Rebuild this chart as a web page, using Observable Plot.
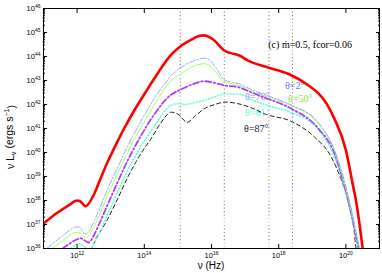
<!DOCTYPE html>
<html><head><meta charset="utf-8">
<script src="https://cdn.jsdelivr.net/npm/d3@7"></script>
<script src="https://cdn.jsdelivr.net/npm/@observablehq/plot@0.6"></script>
<style>body{margin:0;background:#fff} #chart{width:382px;height:273px}</style>
</head><body><div id="chart"></div>
<script>
// log10(nu) and log10(nu L_nu)
const totalNu = [11.0,11.4,11.75,12.0,12.08,12.25,12.5,12.65,12.9,13.2,13.4,13.7,14.1,14.4,14.6,14.8,15.05,15.4,15.6,15.78,15.95,16.1,16.25,16.38,16.55,16.83,17.09,17.69,18.28,18.88,19.18,19.36,19.66,20.0,20.2,20.3,20.5];
const totalL  = [37.04,37.48,37.8,38.0,37.98,37.76,38.25,38.75,39.58,40.45,41.0,41.75,42.65,43.3,43.72,44.08,44.4,44.7,44.84,44.88,44.8,44.65,44.42,44.25,44.15,44.04,43.83,43.54,43.28,42.8,42.46,42.17,41.4,40.1,38.7,38.0,36.0];

const th2Nu = [11.1,11.5,12.0,12.08,12.25,12.5,12.65,12.9,13.2,13.5,13.9,14.3,14.6,14.8,15.05,15.4,15.6,15.78,15.95,16.1,16.25,16.38,16.55,16.8,17.2,17.7,18.37,19.18,19.66,19.96,20.2,20.4];
const th2L  = [36.0,36.45,36.9,36.88,36.6,37.1,37.6,38.45,39.35,40.25,41.3,42.25,42.85,43.2,43.5,43.78,43.88,43.93,43.85,43.6,43.25,43.02,42.95,42.87,42.62,42.35,41.98,41.25,40.1,38.8,37.4,36.0];

const th50Nu = [11.25,11.5,12.0,12.08,12.25,12.5,12.65,12.9,13.2,13.5,13.9,14.3,14.6,14.8,15.05,15.4,15.6,15.78,15.95,16.1,16.25,16.38,16.55,16.8,17.2,17.7,18.37,19.18,19.66,19.96,20.2,20.4];
const th50L  = [36.0,36.25,36.68,36.66,36.45,36.9,37.35,38.2,39.1,40.0,41.04,42.0,42.65,43.0,43.25,43.55,43.66,43.7,43.62,43.4,43.1,42.93,42.88,42.8,42.55,42.3,41.96,41.2,40.08,38.7,37.3,36.0];

const th76Nu = [11.57,12.0,12.1,12.34,12.5,12.65,12.9,13.2,13.5,13.9,14.3,14.79,15.05,15.4,15.78,16.1,16.38,16.8,17.2,17.5,18.37,19.18,19.66,19.96,20.2,20.38];
const th76L  = [36.0,36.38,36.43,36.25,36.55,37.0,37.8,38.75,39.65,40.7,41.6,42.4,42.6,42.82,42.97,42.9,42.8,42.72,42.5,42.33,41.83,41.0,39.96,38.6,37.2,36.0];

const th81Nu = [11.75,12.05,12.15,12.35,12.5,12.65,12.9,13.2,13.5,13.9,14.3,14.79,15.05,15.2,15.5,15.78,16.1,16.38,16.8,17.2,17.7,18.37,19.18,19.66,19.96,20.2,20.36];
const th81L  = [35.9,36.2,36.15,35.95,36.2,36.6,37.4,38.35,39.25,40.25,41.1,41.96,42.04,42.0,42.08,42.17,42.32,42.44,42.44,42.2,41.95,41.67,40.95,39.8,38.5,37.1,36.0];

const th87Nu = [12.0,12.1,12.3,12.45,12.9,13.2,13.5,14.0,14.19,14.5,14.8,15.0,15.28,15.5,15.78,16.1,16.4,16.8,17.2,17.6,18.37,19.06,19.57,19.87,20.07,20.2,20.3];
const th87L  = [35.5,35.5,35.45,36.05,37.2,38.05,38.95,40.17,40.55,41.25,41.68,41.6,41.26,41.5,41.82,42.0,42.1,42.03,41.85,41.6,41.3,40.65,39.8,38.83,38.0,37.2,36.0];

// vertical dotted markers (log10 nu)
const markerNu = [15.07,16.38,17.71,18.41];

// tick exponents
const xTickExp = [12,14,16,18,20];
const yTickExp = [36,37,38,39,40,41,42,43,44,45,46];

// labels: text, log10 nu, log10 L
const labelText = ["(c) ṁ=0.5, fcor=0.06","θ=2°","θ=50°","θ=76°","θ=81°","θ=87°"];
const labelNu   = [17.69,18.19,18.28,17.0,17.0,16.97];
const labelL    = [44.5,42.79,42.25,42.33,41.67,41.0];

const series = [
  {nu: th87Nu, L: th87L, stroke:"#000000", w:0.9, dash:"4 3"},
  {nu: th81Nu, L: th81L, stroke:"#66ffd9", w:1.6, dash:"1 2.2"},
  {nu: th76Nu, L: th76L, stroke:"#b03cff", w:1.8, dash:"6 2.5 1.5 2.5"},
  {nu: th50Nu, L: th50L, stroke:"#99ff55", w:0.9, dash:null},
  {nu: th2Nu,  L: th2L,  stroke:"#8aa2ff", w:0.9, dash:"6 2 1.5 2"},
  {nu: totalNu,L: totalL,stroke:"#ff0000", w:2.6, dash:null}
];
const labelColors = ["#000000","#5f7cf0","#8ee03a","#b57aff","#66ffd9","#222222"];
const dotColors = ["#ff4040","#2ca02c","#5060ff","#b040ff","#d0c030","#50f0d0","#909090"];

const pow = e => 10 ** e;
const lines = series.map(s => Plot.line(s.nu.map((n, i) => ({nu: pow(n), L: pow(s.L[i])})), {
  x: "nu", y: "L", stroke: s.stroke, strokeWidth: s.w, strokeDasharray: s.dash, curve: "monotone-x", clip: true
}));

const markers = dotColors.map((c, i) => Plot.ruleX(markerNu.map(pow), {
  stroke: c, strokeWidth: 1, strokeDasharray: "1.2 23.3", strokeDashoffset: -3.5 * i
}));

const labels = Plot.text(labelText.map((t, i) => ({t, nu: pow(labelNu[i]), L: pow(labelL[i]), c: labelColors[i]})), {
  x: "nu", y: "L", text: "t", fill: d => d.c, textAnchor: "start", fontSize: 10,
  fontFamily: "Liberation Serif"
});

const xTicks = xTickExp.map(pow);
const yTicks = yTickExp.map(pow);
const yMinor = [];
for (const e of yTickExp.slice(0, -1)) for (let m = 2; m <= 9; m++) yMinor.push(m * 10 ** e);
const fmt = d => `10^${Math.round(Math.log10(d))}`;

const chart = Plot.plot({
  width: 382, height: 273,
  marginLeft: 43, marginRight: 3, marginTop: 8, marginBottom: 25,
  x: {type: "log", domain: [1e11, 1e21]},
  y: {type: "log", domain: [1e36, 1e46]},
  style: {fontFamily: "Liberation Sans, Arial, sans-serif", fontSize: "7.5px", color: "#000", background: "#fff"},
  marks: [
    ...markers,
    labels,
    ...lines,
    Plot.frame({stroke: "#000", strokeWidth: 1}),
    Plot.axisX(xTicks, {anchor: "bottom", tickSize: 0, tickPadding: 4, tickFormat: fmt, label: null}),
    Plot.axisX(xTicks, {anchor: "bottom", tickSize: -4, fill: "none", label: null}),
    Plot.axisX(xTicks, {anchor: "top", tickSize: -4, fill: "none", label: null}),
    Plot.axisY(yTicks, {anchor: "left", tickSize: 0, tickPadding: 3, tickFormat: fmt, label: null}),
    Plot.axisY(yTicks, {anchor: "left", tickSize: -4, fill: "none", label: null}),
    Plot.axisY(yMinor, {anchor: "left", tickSize: -2, fill: "none", label: null}),
    Plot.axisY(yTicks, {anchor: "right", tickSize: -4, fill: "none", label: null}),
    Plot.axisY(yMinor, {anchor: "right", tickSize: -2, fill: "none", label: null})
  ]
});
document.getElementById("chart").appendChild(chart);

// superscript exponents on tick labels
const svg = d3.select(chart);
svg.selectAll('g[aria-label="x-axis tick label"] text, g[aria-label="y-axis tick label"] text').each(function () {
  const s = this.textContent;
  if (!s.includes("^")) return;
  const [b, e] = s.split("^");
  const t = d3.select(this);
  t.text(null);
  t.append("tspan").text(b);
  t.append("tspan").attr("dy", "-0.5em").attr("font-size", "5px").text(e);
});

// axis titles
const xl = svg.append("text").attr("x", 211).attr("y", 269).attr("text-anchor", "middle")
  .attr("font-size", "10px").attr("font-family", "Liberation Sans, Arial, sans-serif");
xl.text("ν (Hz)");
const yl = svg.append("text").attr("transform", "translate(14,137) rotate(-90)").attr("text-anchor", "middle")
  .attr("font-size", "10.5px").attr("font-family", "Liberation Sans, Arial, sans-serif");
yl.append("tspan").text("ν L");
yl.append("tspan").attr("dy", "0.3em").attr("font-size", "7px").text("ν");
yl.append("tspan").attr("dy", "-0.3em").text(" (ergs s");
yl.append("tspan").attr("dy", "-0.5em").attr("font-size", "7px").text("−1");
yl.append("tspan").attr("dy", "0.5em").text(")");
</script></body></html>
